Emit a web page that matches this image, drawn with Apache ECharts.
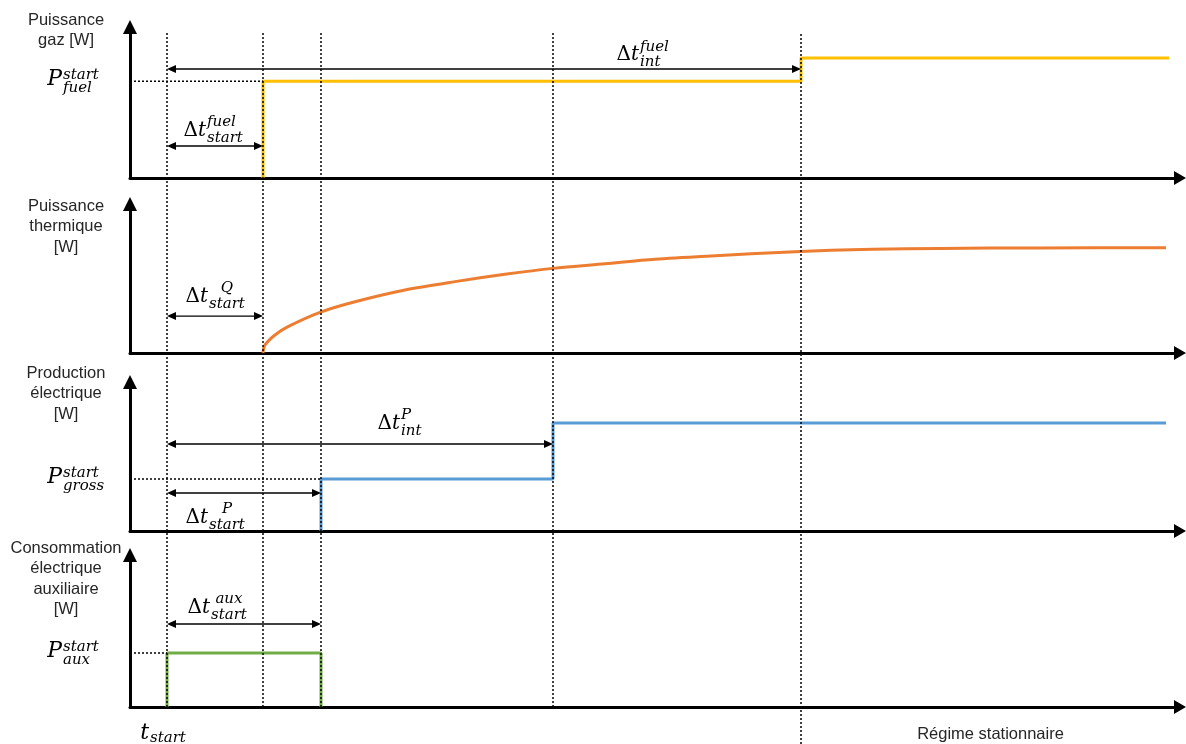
<!DOCTYPE html>
<html><head><meta charset="utf-8">
<script src="https://cdn.jsdelivr.net/npm/echarts@6/dist/echarts.min.js"></script>
<style>html,body{margin:0;padding:0;background:#fff}#c{width:1186px;height:744px}</style>
</head><body><div id="c"></div>
<script>
// ---- data (time axis 0..105, each panel's value axis 0..100) ----
const markerTimes   = [3.7, 13.3, 19.1, 42.3, 67.1];   // t_start, fuel start, P start, P int, fuel int
const markerBottoms = [5.2, 5.2, 5.2, 5.2, 0];
const fuelT  = [13.3, 13.3, 67.1, 67.1, 103.9];
const fuelP  = [0, 64, 64, 79.5, 79.5];
const thermT = [13.3, 13.5, 14.5, 15.8, 19.0, 22.5, 27.5, 32.5, 37.5, 42.3, 47.5, 52.5, 57.7, 66.5, 74.3, 81.0, 91.0, 103.6];
const thermQ = [0, 5.4, 12.1, 17.7, 27.3, 34.4, 42.3, 47.9, 52.8, 56.8, 59.9, 62.9, 65.0, 68.0, 69.6, 70.2, 70.5, 70.6];
const elecT  = [19.1, 19.1, 42.3, 42.3, 103.6];
const elecP  = [0, 34.9, 34.9, 72.5, 72.5];
const auxT   = [3.7, 3.7, 19.1, 19.1];
const auxP   = [0, 35.5, 35.5, 0];
const panelTitles = ['Puissance\ngaz [W]', 'Puissance\nthermique\n[W]', 'Production\nélectrique\n[W]', 'Consommation\nélectrique\nauxiliaire\n[W]'];
// double arrows per panel: [from, to, height]
const fuelArrows  = [[3.7, 67.1, 72.2], [3.7, 13.3, 21.2]];
const thermArrows = [[3.7, 13.3, 24.8]];
const elecArrows  = [[3.7, 42.3, 58.4], [3.7, 19.1, 25.5]];
const auxArrows   = [[3.7, 19.1, 54.6]];
// Δt labels per panel: [t, y, superscript, subscript, centredSup]
const fuelDelta  = [[50.9, 81.5, 'fuel', 'int', 0], [7.6, 31.5, 'fuel', 'start', 0]];
const thermDelta = [[7.8, 37.9, 'Q', 'start', 1]];
const elecDelta  = [[27.0, 72.1, 'P', 'int', 0], [7.8, 9.1, 'P', 'start', 1]];
const auxDelta   = [[8.0, 65.5, 'aux', 'start', 1]];
// level labels: [level, superscript, subscript]
const fuelLevel = [fuelP[1], 'start', 'fuel'];
const elecLevel = [elecP[1], 'start', 'gross'];
const auxLevel  = [auxP[1], 'start', 'aux'];

// ---- layout ----
const panels = [{top: 27, height: 151}, {top: 204, height: 149}, {top: 382, height: 149}, {top: 555, height: 152}];
const titleTops = [10, 196, 363, 538];
const TXT = '#262626';
const mathFont = '"DejaVu Serif"';
const ctx = document.createElement('canvas').getContext('2d');
function measure(s, font) { ctx.font = font; return ctx.measureText(s).width; }
function txt(s, x, y, font, align, fill) {
  return {type: 'text', style: {text: s, x: x, y: y, font: font, fill: fill || '#000',
    align: align, verticalAlign: 'middle', textAlign: align, textVerticalAlign: 'middle'}};
}
const bigF = '20px ' + mathFont, bigIt = 'italic 20px ' + mathFont, scrF = 'italic 15px ' + mathFont;

function arrowItem(params, api) {
  const a = api.coord([api.value(0), api.value(2)]);
  const b = api.coord([api.value(1), api.value(2)]);
  const L = 9, W = 4;
  return {type: 'group', children: [
    {type: 'line', shape: {x1: a[0] + 4, y1: a[1], x2: b[0] - 4, y2: b[1]}, style: {stroke: '#000', lineWidth: 1.3}},
    {type: 'polygon', shape: {points: [[a[0], a[1]], [a[0] + L, a[1] - W], [a[0] + L, a[1] + W]]}, style: {fill: '#000'}},
    {type: 'polygon', shape: {points: [[b[0], b[1]], [b[0] - L, b[1] - W], [b[0] - L, b[1] + W]]}, style: {fill: '#000'}}
  ]};
}
function deltaItem(defs) {
  return function (params, api) {
    const d = defs[params.dataIndex];
    const p = api.coord([d[0], d[1]]);
    const x = p[0], y = p[1];
    const tw = measure('t', bigIt);
    const xs = x + 1;
    const subW = measure(d[3], scrF);
    const children = [
      txt('Δ', x - tw, y, bigF, 'right'),
      txt('t', x, y, bigIt, 'right'),
      txt(d[3], xs, y + 7.5, scrF, 'left')
    ];
    if (d[4]) children.push(txt(d[2], xs + subW / 2, y - 8, scrF, 'center'));
    else children.push(txt(d[2], xs, y - 8, scrF, 'left'));
    return {type: 'group', children: children};
  };
}
function levelItem(def) {
  return function (params, api) {
    const p = api.coord([0, def[0]]);
    const x = p[0] - 68, y = p[1] - 2;
    return {type: 'group', children: [
      txt('P', x, y, 'italic 22px ' + mathFont, 'right'),
      txt(def[1], x + 1, y - 4, scrF, 'left'),
      txt(def[2], x + 1, y + 9, scrF, 'left')
    ]};
  };
}
function bottomItem(params, api) {
  const p = api.coord([api.value(0), api.value(1)]);
  if (params.dataIndex === 0) {
    const x = p[0] - 18, y = p[1] + 26.5;
    return {type: 'group', children: [
      txt('t', x, y, 'italic 22px ' + mathFont, 'right'),
      txt('start', x + 1, y + 5, scrF, 'left')
    ]};
  }
  return txt('Régime stationnaire', p[0], p[1] + 27, '16.5px "Liberation Sans"', 'center', TXT);
}

const zip = (a, b) => a.map((v, i) => [v, b[i]]);
const grids = panels.map(p => ({left: 130, width: 1050, top: p.top, height: p.height}));
grids.push({left: 130, width: 1050, top: 33, height: 711});
const axisLine = (size) => ({show: true, onZero: false, symbol: ['none', 'triangle'], symbolSize: size,
  lineStyle: {color: '#000', width: 3}});
const xAxes = panels.map((p, i) => ({type: 'value', gridIndex: i, min: 0, max: 105,
  axisLine: axisLine([14, 12]), axisTick: {show: false}, axisLabel: {show: false}, splitLine: {show: false}}));
xAxes.push({type: 'value', gridIndex: 4, min: 0, max: 105, show: false});
const yAxes = panels.map((p, i) => ({type: 'value', gridIndex: i, min: 0, max: 100,
  axisLine: axisLine([14, 14]), axisTick: {show: false}, axisLabel: {show: false}, splitLine: {show: false}}));
yAxes.push({type: 'value', gridIndex: 4, min: 0, max: 100, show: false});

const dotted = {color: '#000', width: 1.5, type: [2, 2]};
const series = [];
function lineS(i, data, style, z, smooth) {
  series.push({type: 'line', xAxisIndex: i, yAxisIndex: i, data: data, showSymbol: false, symbol: 'none',
    smooth: smooth || false, lineStyle: style, z: z || 3, silent: true, animation: false});
}
lineS(0, zip(fuelT, fuelP), {color: '#FFC000', width: 3});
lineS(1, zip(thermT, thermQ), {color: '#ED7D31', width: 3}, 3, 0.3);
lineS(2, zip(elecT, elecP), {color: '#5B9BD5', width: 3});
lineS(3, zip(auxT, auxP), {color: '#70AD47', width: 3});
// level guide lines
lineS(0, [[0, fuelP[1]], [fuelT[1], fuelP[1]]], dotted, 4);
lineS(2, [[0, elecP[1]], [elecT[1], elecP[1]]], dotted, 4);
lineS(3, [[0, auxP[1]], [auxT[1], auxP[1]]], dotted, 4);
// vertical instants
markerTimes.forEach((t, k) => lineS(4, [[t, markerBottoms[k]], [t, 100]], dotted, 5));
// arrows and labels
[fuelArrows, thermArrows, elecArrows, auxArrows].forEach((arr, i) => {
  series.push({type: 'custom', xAxisIndex: i, yAxisIndex: i, data: arr, encode: {x: [0, 1], y: 2},
    renderItem: arrowItem, z: 6, silent: true});
});
[fuelDelta, thermDelta, elecDelta, auxDelta].forEach((defs, i) => {
  series.push({type: 'custom', xAxisIndex: i, yAxisIndex: i, data: defs.map(d => [d[0], d[1]]),
    renderItem: deltaItem(defs), z: 6, silent: true});
});
[[0, fuelLevel], [2, elecLevel], [3, auxLevel]].forEach(([i, def]) => {
  series.push({type: 'custom', xAxisIndex: i, yAxisIndex: i, data: [[0, def[0]]],
    renderItem: levelItem(def), z: 6, silent: true});
});
series.push({type: 'custom', xAxisIndex: 3, yAxisIndex: 3,
  data: [[markerTimes[0], 0], [(markerTimes[4] + 105) / 2, 0]], renderItem: bottomItem, z: 6, silent: true});

const chart = echarts.init(document.getElementById('c'), null, {renderer: 'canvas'});
chart.setOption({
  animation: false,
  backgroundColor: '#fff',
  grid: grids, xAxis: xAxes, yAxis: yAxes, series: series,
  graphic: panelTitles.map((s, i) => ({type: 'text', x: 66, y: titleTops[i],
    style: {text: s, font: '16.5px "Liberation Sans"', fill: TXT, align: 'center', textAlign: 'center',
      verticalAlign: 'top', lineHeight: 20.5}}))
});
</script></body></html>
